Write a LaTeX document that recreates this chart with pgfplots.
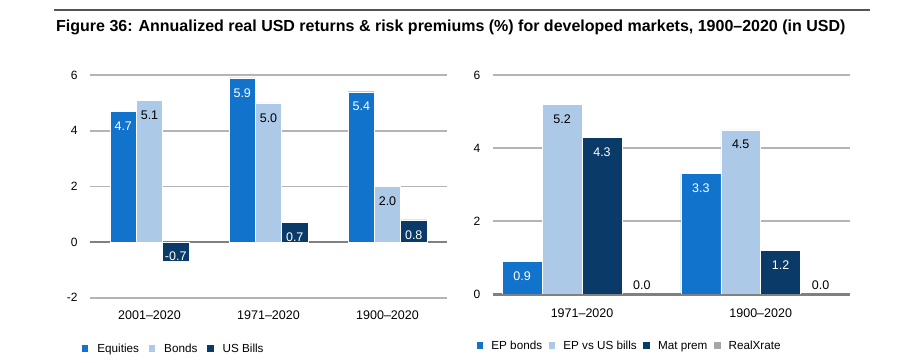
\documentclass[border=0pt]{standalone}
\usepackage{pgfplots}
\pgfplotsset{compat=1.18}
\usepackage{fontspec}
\setmainfont{Liberation Sans}
\definecolor{cEq}{HTML}{1273CC}
\definecolor{cBd}{HTML}{ADC9E8}
\definecolor{cBl}{HTML}{0A3A68}
\definecolor{cGr}{HTML}{A6A6A6}
\definecolor{cGrid}{HTML}{B4B4B4}
\definecolor{cZero}{HTML}{808080}
\definecolor{cRule}{HTML}{555555}

\pgfplotsset{
  mybar/.style={
    scale only axis,
    ybar,
    axis line style={draw=none},
    tick style={draw=none},
    ymajorgrids,
    grid style={cGrid, line width=1.7pt},
    extra y ticks={0},
    extra y tick labels={},
    extra y tick style={grid style={cZero, line width=2pt}},
    /pgf/number format/assume math mode=true,
    yticklabel style={font=\fontsize{12}{14}\selectfont, xshift=-9pt},
    xticklabel style={font=\fontsize{12.5}{14}\selectfont},
    every axis plot/.append style={draw=white, line width=0.4pt},
    nodes near coords,
    nodes near coords style={font=\fontsize{12.5}{14}\selectfont, anchor=north, yshift=-7pt,
      /pgf/number format/fixed, /pgf/number format/fixed zerofill, /pgf/number format/precision=1},
    legend style={draw=none, fill=none, font=\fontsize{11.7}{13}\selectfont,
      inner sep=0pt, outer sep=0pt, anchor=west},
    legend columns=-1,
    legend image code/.code={\fill[#1, draw=none] (0pt,-3.35pt) rectangle (6.7pt,3.35pt);},
  }
}

\begin{document}
\begin{tikzpicture}
\path[use as bounding box] (0pt,0pt) rectangle (909pt,-363pt);
\draw[cRule, line width=1.8pt] (54pt,-10pt) -- (870pt,-10pt);
\node[anchor=base west, inner sep=0pt, font=\bfseries\fontsize{16}{19}\selectfont] at (56pt,-31.5pt)
  {Figure 36: Annualized real USD returns \& risk premiums (\%) for developed markets, 1900--2020 (in USD)};

% Left chart
\begin{axis}[mybar,
  at={(90pt,-297.7pt)}, anchor=south west,
  width=357pt, height=222.7pt,
  xmin=-0.5, xmax=2.5, ymin=-2, ymax=6,
  ytick={-2,0,2,4,6},
  xtick={0,1,2},
  xticklabels={2001--2020, 1971--2020, 1900--2020},
  xticklabel style={yshift=-5.5pt},
  bar width=0.2205,
  legend style={at={(-0.0232,-0.229)},
    /tikz/every odd column/.append style={column sep=7pt},
    /tikz/every even column/.append style={column sep=7.5pt}},
]
\addplot[fill=cEq, bar shift=-0.2205, every node near coord/.append style={text=white}]
  coordinates {(0,4.7) (1,5.9) (2,5.4)};
\addplot[fill=cBd, bar shift=0, every node near coord/.append style={text=black}]
  coordinates {(0,5.1) (1,5.0) (2,2.0)};
\addplot[fill=cBl, bar shift=0.2205, every node near coord/.append style={text=white}]
  coordinates {(1,0.7) (2,0.8)};
\addplot[fill=cBl, bar shift=0.2205, forget plot, every node near coord/.append style={text=white, anchor=south, yshift=4.5pt}]
  coordinates {(0,-0.7)};
\legend{Equities, Bonds, US Bills}
\end{axis}

% Right chart
\begin{axis}[mybar,
  at={(492.7pt,-294.3pt)}, anchor=south west,
  width=357.3pt, height=219.3pt,
  xmin=-0.5, xmax=1.5, ymin=0, ymax=6,
  clip=false,
  ytick={0,2,4,6},
  xtick={0,1},
  xticklabels={1971--2020, 1900--2020},
  xticklabel style={yshift=-6.5pt},
  bar width=0.2235,
  legend style={at={(-0.0448,-0.2348)},
    /tikz/every odd column/.append style={column sep=6pt},
    /tikz/every even column/.append style={column sep=4.5pt}},
]
\addplot[fill=cEq, bar shift=-0.33525, every node near coord/.append style={text=white}]
  coordinates {(0,0.9) (1,3.3)};
\addplot[fill=cBd, bar shift=-0.11175, every node near coord/.append style={text=black}]
  coordinates {(0,5.2) (1,4.5)};
\addplot[fill=cBl, bar shift=0.11175, every node near coord/.append style={text=white}]
  coordinates {(0,4.3) (1,1.2)};
\addplot[fill=cGr, bar shift=0.33525, every node near coord/.append style={text=black, anchor=south, yshift=7.8pt}]
  coordinates {(0,0.0) (1,0.0)};
\legend{EP bonds, EP vs US bills, Mat prem, RealXrate}
\addplot[sharp plot, draw=cZero, line width=2.2pt, fill=none, nodes near coords={}, forget plot, mark=none]
  coordinates {(-0.5,-0.03) (1.5,-0.03)};
\end{axis}
\end{tikzpicture}
\end{document}
